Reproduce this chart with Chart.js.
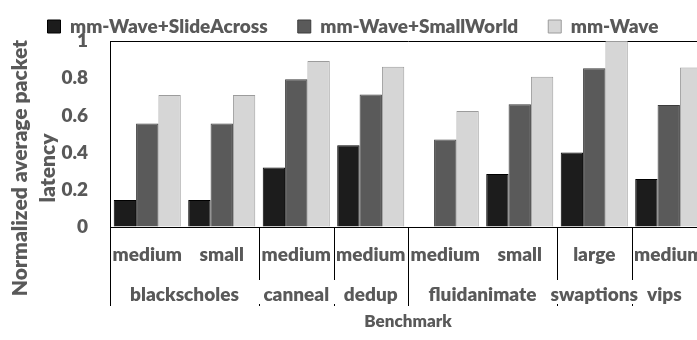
<!DOCTYPE html>
<html>
<head>
<meta charset="utf-8">
<script src="https://cdn.jsdelivr.net/npm/chart.js@4/dist/chart.umd.min.js"></script>
<style>
  html, body { margin: 0; padding: 0; background: #fff; overflow: hidden; }
  #wrap { width: 716px; height: 340px; }
</style>
</head>
<body>
<div id="wrap"><canvas id="chart" width="716" height="340"></canvas></div>
<script>
// input sizes (first row of the category axis)
const sizes = ["medium", "small", "medium", "medium", "medium", "small", "large", "medium"]
// benchmarks (second row) and how many sizes each one covers
const benchmarks = ["blackscholes", "canneal", "dedup", "fluidanimate", "swaptions", "vips"]
const benchmarkSpans = [2, 1, 1, 2, 1, 1]

// normalized average packet latency
const slideAcross = [0.145, 0.145, 0.32, 0.44, 0, 0.285, 0.40, 0.258]
const smallWorld = [0.557, 0.557, 0.794, 0.713, 0.471, 0.66, 0.853, 0.656]
const mmWave = [0.71, 0.71, 0.892, 0.862, 0.624, 0.808, 1.0, 0.857]

const yTicks = [0, 0.2, 0.4, 0.6, 0.8, 1]
const yTitle = ["Normalized average packet", "latency"]

const textColor = "#595959"
const fontFamily = "Lato, 'Open Sans', sans-serif"
const fontWeight = "800"

// draws the separators and the benchmark names under the size labels
const groupAxis = {
  id: "groupAxis",
  afterDraw(chart) {
    const ctx = chart.ctx
    const area = chart.chartArea
    const x = chart.scales.x
    const visibleRight = Math.min(area.right, window.innerWidth)
    const edge = i => {
      if (i <= 0) return area.left
      if (i >= sizes.length) return area.right
      return (x.getPixelForValue(i - 1) + x.getPixelForValue(i)) / 2
    }

    ctx.save()
    ctx.strokeStyle = "#000"
    ctx.lineWidth = 1
    ctx.fillStyle = textColor
    ctx.font = fontWeight + " 19px " + fontFamily
    ctx.textAlign = "center"
    ctx.textBaseline = "middle"

    let start = 0
    benchmarks.forEach((name, g) => {
      const end = start + benchmarkSpans[g]
      const left = edge(start)
      const right = edge(end)
      const lx = Math.round(left) + 0.5

      // the outer edges run all the way down, the rest stop under the first row
      const longLine = g === 0 || g === 3
      ctx.beginPath()
      ctx.moveTo(lx, area.bottom)
      ctx.lineTo(lx, longLine ? 306 : 280)
      if (!longLine) {
        ctx.moveTo(lx, 304)
        ctx.lineTo(lx, 306)
      }
      ctx.stroke()

      ctx.fillText(name, (left + Math.min(right, visibleRight)) / 2, 295)
      start = end
    })

    // y axis title, sits a bit lower than the plot centre like in the original
    ctx.save()
    ctx.translate(0, 168)
    ctx.rotate(-Math.PI / 2)
    ctx.font = fontWeight + " 21px " + fontFamily
    ctx.fillText(yTitle[0], 0, 20)
    ctx.fillText(yTitle[1], 0, 48)
    ctx.restore()

    ctx.restore()
  }
}

// legend: fixed box height so the plot starts at the same place, text pushed down a bit
const legendBox = {
  id: "legendBox",
  beforeInit(chart) {
    const fit = chart.legend.fit
    chart.legend.fit = function () {
      fit.bind(chart.legend)()
      this.height = 41
    }
  },
  afterLayout(chart) {
    chart.legend.top = -13
  }
}

new Chart(document.getElementById("chart"), {
  type: "bar",
  data: {
    labels: sizes,
    datasets: [
      {
        label: "mm-Wave+SlideAcross",
        data: slideAcross,
        backgroundColor: "#1c1c1c",
        borderColor: "#000000",
        borderWidth: 1
      },
      {
        label: "mm-Wave+SmallWorld",
        data: smallWorld,
        backgroundColor: "#5a5a5a",
        borderColor: "#3c3c3c",
        borderWidth: 1
      },
      {
        label: "mm-Wave",
        data: mmWave,
        backgroundColor: "#d6d6d6",
        borderColor: "#9c9c9c",
        borderWidth: 1
      }
    ]
  },
  options: {
    responsive: false,
    animation: false,
    layout: { padding: { left: 0, right: 10, top: 0, bottom: 0 } },
    datasets: {
      bar: { categoryPercentage: 0.9, barPercentage: 1 }
    },
    plugins: {
      tooltip: { enabled: false },
      legend: {
        position: "top",
        labels: {
          color: textColor,
          font: { family: fontFamily, size: 19, weight: fontWeight },
          boxWidth: 13,
          boxHeight: 13,
          padding: 30
        }
      }
    },
    scales: {
      x: {
        afterFit: scale => { scale.height = 113 },
        grid: { display: false },
        border: { display: true, color: "#000", width: 1 },
        ticks: {
          color: textColor,
          font: { family: fontFamily, size: 19, weight: fontWeight },
          maxRotation: 0,
          autoSkip: false,
          padding: 8
        },
        title: {
          display: true,
          text: "Benchmark",
          color: textColor,
          font: { family: fontFamily, size: 17, weight: fontWeight },
          padding: { top: 0, bottom: 8 }
        }
      },
      y: {
        min: 0,
        max: 1,
        afterFit: scale => { scale.width = 110 },
        afterBuildTicks: scale => { scale.ticks = yTicks.map(v => ({ value: v })) },
        grid: {
          drawTicks: false,
          color: c => (c.tick && c.tick.value === 1 ? "#000" : "rgba(0,0,0,0)")
        },
        border: { display: true, color: "#000", width: 1 },
        ticks: {
          color: textColor,
          font: { family: fontFamily, size: 19, weight: fontWeight },
          padding: 22,
          callback: v => String(v)
        },
        title: { display: false }
      }
    }
  },
  plugins: [groupAxis, legendBox]
})
</script>
</body>
</html>
